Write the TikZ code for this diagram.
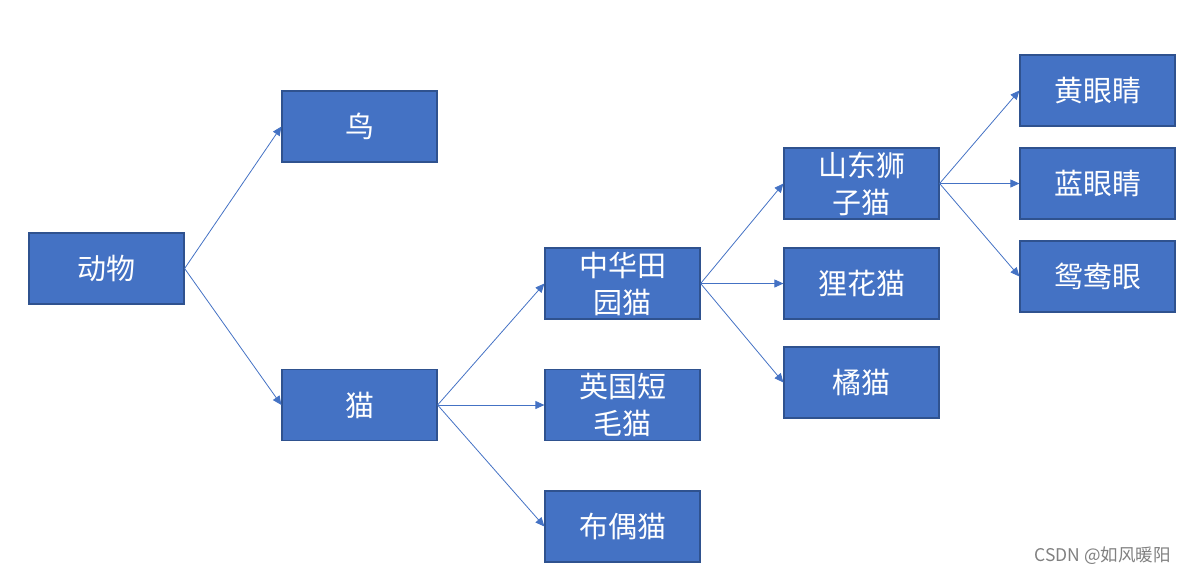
\documentclass[tikz,border=0pt]{standalone}
\usepackage{fontspec}
\newfontfamily\cjk{Noto Sans CJK SC}
\usetikzlibrary{arrows.meta}
\definecolor{boxfill}{HTML}{4472C4}
\definecolor{boxline}{HTML}{2F528F}
\definecolor{linkc}{HTML}{4472C4}
\tikzset{
  box/.style={draw=boxline, line width=1.2pt, fill=boxfill, text=white,
    minimum width=155pt, minimum height=71pt, inner sep=0pt, align=center,
    font=\cjk\fontsize{29}{37}\selectfont},
  link/.style={draw=linkc, line width=0.8pt, -{Triangle[length=9pt,width=8pt]}},
}
\begin{document}
\begin{tikzpicture}[x=1pt,y=-1pt]
\useasboundingbox (0,0) rectangle (1185,576);
\node[box] (animal) at (106.5,268.5) {动物};
\node[box] (bird) at (359.5,126.5) {鸟};
\node[box] (cat) at (359.5,405) {猫};
\node[box] (zh) at (622.5,283.5) {中华田\\园猫};
\node[box] (uk) at (622.5,405) {英国短\\毛猫};
\node[box] (rag) at (622.5,526.5) {布偶猫};
\node[box] (sd) at (861.5,183.5) {山东狮\\子猫};
\node[box] (lh) at (861.5,283.5) {狸花猫};
\node[box] (ju) at (861.5,382.5) {橘猫};
\node[box] (yel) at (1097.5,90.5) {黄眼睛};
\node[box] (blu) at (1097.5,183.5) {蓝眼睛};
\node[box] (odd) at (1097.5,276.5) {鸳鸯眼};
\draw[link] (animal.east) -- (bird.west);
\draw[link] (animal.east) -- (cat.west);
\draw[link] (cat.east) -- (zh.west);
\draw[link] (cat.east) -- (uk.west);
\draw[link] (cat.east) -- (rag.west);
\draw[link] (zh.east) -- (sd.west);
\draw[link] (zh.east) -- (lh.west);
\draw[link] (zh.east) -- (ju.west);
\draw[link] (sd.east) -- (yel.west);
\draw[link] (sd.east) -- (blu.west);
\draw[link] (sd.east) -- (odd.west);
\node[text=black!50, font=\cjk\fontsize{17.5}{20}\selectfont, anchor=east, inner sep=0pt] (wm) at (1171,556) {CSDN @如风暖阳};
\end{tikzpicture}
\end{document}
